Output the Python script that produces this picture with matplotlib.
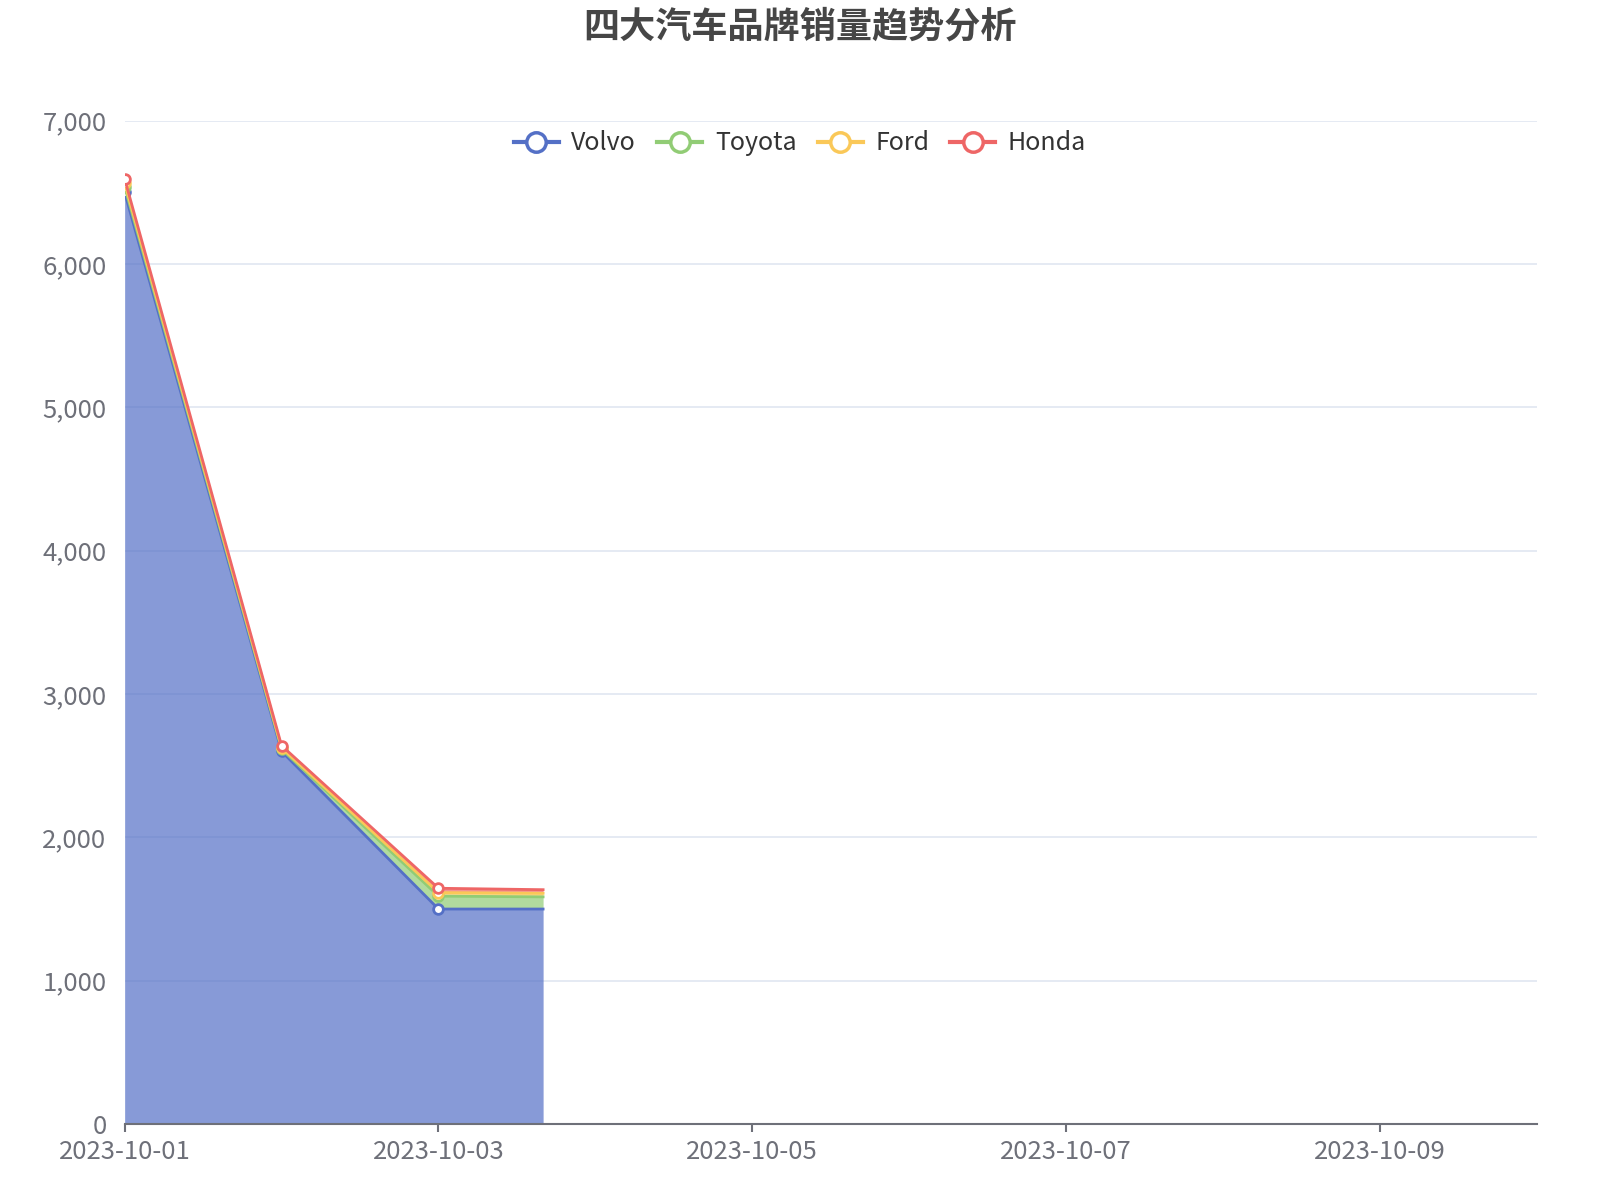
import numpy as np
import pandas as pd
import matplotlib
matplotlib.use('Agg')
import matplotlib.pyplot as plt
import matplotlib.dates as mdates
from matplotlib.lines import Line2D
from matplotlib.ticker import FuncFormatter

plt.rcParams['font.family'] = ['Noto Sans CJK SC', 'DejaVu Sans']

# 数据
dates = pd.to_datetime(['2023-10-01 00:00', '2023-10-02 00:00',
                        '2023-10-03 00:00', '2023-10-03 16:00'])
brands = ['Volvo', 'Toyota', 'Ford', 'Honda']
volvo = [6500, 2600, 1500, 1500]
toyota = [40, 15, 90, 85]
ford = [25, 10, 25, 25]
honda = [30, 15, 30, 25]
colors = ['#5470c6', '#91cc75', '#fac858', '#ee6666']
title = '四大汽车品牌销量趋势分析'

series = [volvo, toyota, ford, honda]

fig = plt.figure(figsize=(16, 12), dpi=100)
ax = fig.add_axes([0.0779, 0.0633, 0.9606 - 0.0779, 0.8994 - 0.0633])

# 堆叠面积
bottom = np.zeros(len(dates))
tops = []
for vals, c in zip(series, colors):
    top = bottom + np.array(vals, dtype=float)
    ax.fill_between(dates, bottom, top, color=c, alpha=0.7, linewidth=0, zorder=2)
    tops.append(top)
    bottom = top

for top, c in zip(tops, colors):
    ax.plot(dates, top, color=c, linewidth=2.0, zorder=3,
            marker='o', markevery=[0, 1, 2], markersize=7,
            markerfacecolor='white', markeredgecolor=c, markeredgewidth=2.0)

# 坐标轴
ax.set_ylim(0, 7000)
ax.set_yticks(np.arange(0, 7001, 1000))
ax.yaxis.set_major_formatter(FuncFormatter(lambda v, p: f'{int(v):,}'))
ax.set_xlim(pd.Timestamp('2023-10-01'), pd.Timestamp('2023-10-10'))
ax.set_xticks(pd.to_datetime(['2023-10-01', '2023-10-03', '2023-10-05',
                              '2023-10-07', '2023-10-09']))
ax.xaxis.set_major_formatter(mdates.DateFormatter('%Y-%m-%d'))

ax.grid(axis='y', color='#e0e6f1', linewidth=1.2, zorder=0)
ax.set_axisbelow(True)
for s in ['top', 'right', 'left']:
    ax.spines[s].set_visible(False)
ax.spines['bottom'].set_color('#6e7079')
ax.spines['bottom'].set_linewidth(1.5)
ax.spines['bottom'].set_zorder(4)
ax.tick_params(axis='y', length=0, pad=13, labelsize=18.5, labelcolor='#6e7079')
ax.tick_params(axis='x', length=6, width=1.5, color='#6e7079', pad=5,
               labelsize=18.5, labelcolor='#6e7079')

# 图例
handles = [Line2D([0], [0], color=c, linewidth=3, marker='o', markersize=14,
                  markerfacecolor='white', markeredgecolor=c, markeredgewidth=2.5)
           for c in colors]
fig.legend(handles, brands, loc='upper center', bbox_to_anchor=(0.5, 1 - 108 / 1200),
           ncol=4, frameon=False, fontsize=18, handlelength=1.8, handletextpad=0.5,
           columnspacing=0.85, labelcolor='#333333')

fig.suptitle(title, x=0.5, y=0.993, va='top', fontsize=26, fontweight='bold',
             color='#464646')

fig.savefig('out.png', dpi=100, facecolor='white')
